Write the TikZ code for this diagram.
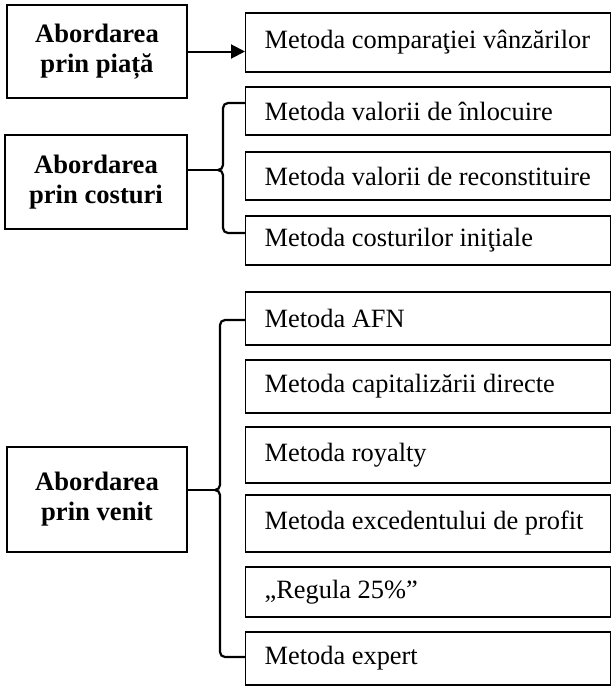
\documentclass[tikz,border=0pt]{standalone}
\usepackage{fontspec}
\setmainfont{Liberation Serif}
\usetikzlibrary{arrows.meta}

\begin{document}
\begin{tikzpicture}[x=1pt, y=-1pt, >={Triangle[length=14pt,width=14pt]}]
\tikzset{approach/.style={draw,line width=1.2pt,align=center,minimum width=180pt,inner sep=0pt,font=\fontsize{26.6pt}{30pt}\selectfont\bfseries}}
\tikzset{method/.style={draw,line width=1.2pt,anchor=west,inner xsep=19pt,inner ysep=0pt,font=\fontsize{26.4pt}{30pt}\selectfont,
  execute at begin node={\hbox to 327pt\bgroup}, execute at end node={\hfil\egroup}}}
\tikzset{brace/.style={line width=2.2pt,rounded corners=5pt}}
\useasboundingbox (0,0) rectangle (611,686);

% approaches
\node[approach, minimum height=93pt] (piata) at (97,51.5) {Abordarea\\prin piață};
\node[approach, minimum height=94pt, minimum width=182pt] (costuri) at (96,182) {Abordarea\\prin costuri};
\node[approach, minimum height=105pt] (venit) at (97,499.5) {Abordarea\\prin venit};

% methods
\node[method, minimum height=59pt] (comparatie) at (245,42.5) {Metoda comparaţiei vânzărilor};

\node[method, minimum height=48pt] (inlocuire) at (245,111) {Metoda valorii de înlocuire};
\node[method, minimum height=48pt] (reconst) at (245,176) {Metoda valorii de reconstituire};
\node[method, minimum height=49pt] (initiale) at (245,240.5) {Metoda costurilor iniţiale};

\node[method, minimum height=53pt] (afn) at (245,318.5) {Metoda AFN};
\node[method, minimum height=53pt] (capital) at (245,386.5) {Metoda capitalizării directe};
\node[method, minimum height=56pt] (royalty) at (245,455) {Metoda royalty};
\node[method, minimum height=57pt] (exced) at (245,523.5) {Metoda excedentului de profit};
\node[method, minimum height=50pt] (regula) at (245,592) {„Regula 25\%”};
\node[method, minimum height=53pt] (expert) at (245,658.5) {Metoda expert};

% piata -> comparatie
\draw[->, line width=2pt] (piata.east) -- (piata.east -| comparatie.west);

% brace for costuri
\coordinate (tipC) at (218,170);
\draw[brace] (inlocuire.west |- 0,103) -- (223,103) -- (223,170) -- (tipC);
\draw[brace] (tipC) -- (223,170) -- (223,233) -- (initiale.west |- 0,233);
\draw[brace] (costuri.east |- tipC) -- (tipC);

% brace for venit
\coordinate (tipV) at (215,490);
\draw[brace] (afn.west |- 0,320) -- (220,320) -- (220,490) -- (tipV);
\draw[brace] (tipV) -- (220,490) -- (220,657) -- (expert.west |- 0,657);
\draw[brace] (venit.east |- tipV) -- (tipV);

\end{tikzpicture}
\end{document}
